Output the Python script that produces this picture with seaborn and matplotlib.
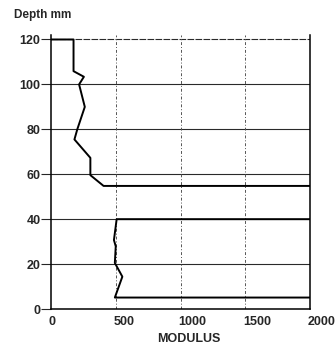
import matplotlib
matplotlib.use("Agg")
import matplotlib.pyplot as plt
import seaborn as sns
import pandas as pd
import matplotlib.transforms as mtransforms

# Upper profile (depth 120 -> ~55 mm)
upper_modulus = [0, 174, 174, 254, 217, 261, 203, 181, 304, 304, 406, 2000]
upper_depth = [120, 120, 105.9, 103.4, 100, 90, 80, 75.5, 67.3, 59.6, 54.8, 54.8]
# Lower profile (depth 40 -> ~5 mm)
lower_modulus = [2000, 507, 486, 500, 493, 551, 493, 2000]
lower_depth = [40, 40, 30.7, 27.9, 20.5, 14.4, 5.1, 5.1]

x_ticks = [0, 500, 1000, 1500, 2000]
y_ticks = [0, 20, 40, 60, 80, 100, 120]

sns.set_style("white")
plt.rcParams['font.family'] = ['Liberation Sans', 'DejaVu Sans']

fig = plt.figure(figsize=(3.36, 3.51), dpi=100)
ax = fig.add_axes([51/336, 1 - 309/351, (310-51)/336, (309-35)/351])

df_up = pd.DataFrame({"modulus": upper_modulus, "depth": upper_depth})
df_lo = pd.DataFrame({"modulus": lower_modulus, "depth": lower_depth})

# gridlines
for yv in y_ticks[1:]:
    ax.axhline(yv, color="#2a2a2a", lw=0.8, zorder=1,
               linestyle=(0, (6, 1.2)) if yv == 120 else "-")
for xv in x_ticks[1:-1]:
    ax.axvline(xv, color="#555555", lw=0.7, linestyle=(0, (3, 2, 1, 2)), zorder=1)

sns.lineplot(data=df_up, x="modulus", y="depth", sort=False, estimator=None,
             color="black", lw=1.4, ax=ax, zorder=3)
sns.lineplot(data=df_lo, x="modulus", y="depth", sort=False, estimator=None,
             color="black", lw=1.4, ax=ax, zorder=3)

ax.set_xlim(0, 2000)
ax.set_ylim(0, 122)
ax.set_xticks(x_ticks)
ax.set_yticks(y_ticks)
ax.set_xticklabels([str(v) for v in x_ticks], fontsize=9, fontweight="bold")
ax.set_yticklabels([str(v) for v in y_ticks], fontsize=9, fontweight="bold")
ax.tick_params(axis="y", length=7, width=0.8, pad=0.5, direction="out", left=True)
ax.tick_params(axis="x", length=0, pad=5)
offset = mtransforms.ScaledTranslation(-2/100, 0, fig.dpi_scale_trans)
for lab in ax.get_xticklabels():
    lab.set_horizontalalignment("left")
    lab.set_transform(lab.get_transform() + offset)

ax.set_xlabel("")
ax.set_ylabel("")
for s in ["left", "bottom", "right"]:
    ax.spines[s].set_visible(True)
    ax.spines[s].set_color("black")
    ax.spines[s].set_linewidth(1.1)
ax.spines["top"].set_visible(False)

fig.text(43/336, 1 - 15/351, "Depth mm", ha="center", va="center",
         fontsize=8.5, fontweight="bold")
fig.text(189/336, 1 - 339/351, "MODULUS", ha="center", va="center",
         fontsize=9, fontweight="bold")

fig.savefig("out.png", dpi=100, facecolor="white")
